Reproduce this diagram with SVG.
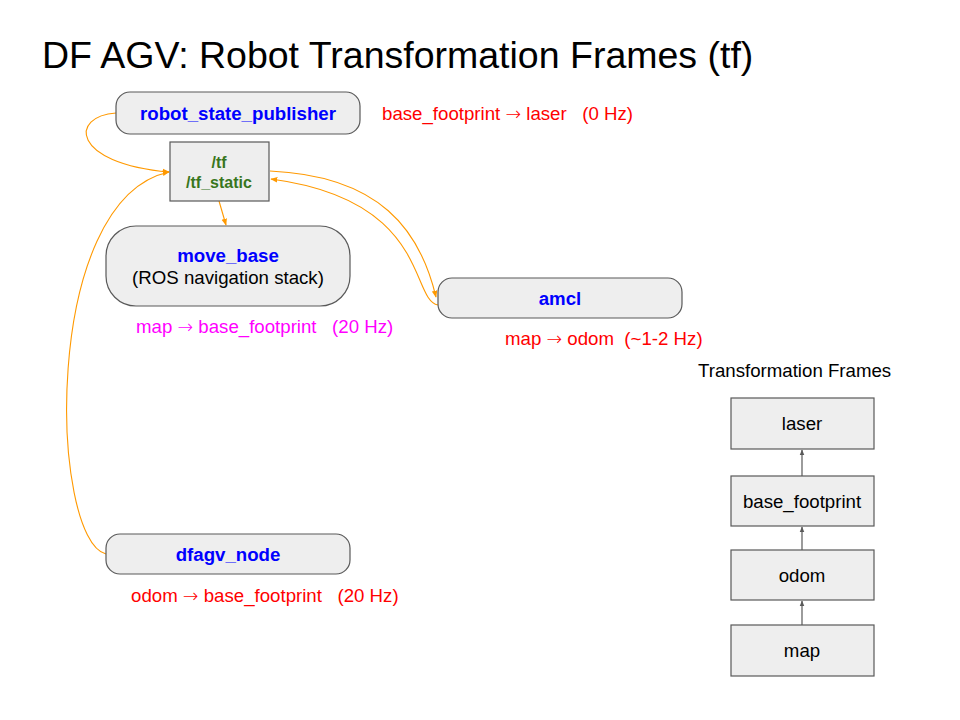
<svg xmlns="http://www.w3.org/2000/svg" width="960" height="720" viewBox="0 0 960 720">
<defs>
<style>
text{font-family:"Liberation Sans",Arial,sans-serif}
.node{fill:#eeeeee;stroke:#595959;stroke-width:1.2}
.nl{font-weight:bold;fill:#0000ff;font-size:18.67px;text-anchor:middle}
.tf{font-weight:bold;fill:#38761d;font-size:16px;text-anchor:middle}
.fr{fill:#000;font-size:18.67px;text-anchor:middle}
.red{fill:#ff0000;font-size:18.67px}
.mag{fill:#ff00ff;font-size:18.67px}
.ar{font-family:"DejaVu Sans",sans-serif;font-weight:200;font-size:18.67px}
.oc{fill:none;stroke:#ff9900;stroke-width:1.1;marker-end:url(#oa)}
.gc{fill:none;stroke:#595959;stroke-width:1.2;marker-end:url(#ga)}
</style>
<marker id="oa" viewBox="0 0 10 10" refX="9" refY="5" markerWidth="7" markerHeight="7" markerUnits="userSpaceOnUse" orient="auto"><path d="M0,1 L10,5 L0,9 z" fill="#ff9900"/></marker>
<marker id="ga" viewBox="0 0 10 10" refX="9" refY="5" markerWidth="6" markerHeight="6" markerUnits="userSpaceOnUse" orient="auto"><path d="M0,1 L10,5 L0,9 z" fill="#595959"/></marker>
</defs>
<rect width="960" height="720" fill="#fff"/>
<text x="42" y="68" style="font-size:37.5px" fill="#000">DF AGV: Robot Transformation Frames (tf)</text>

<g id="connectors">
<path class="oc" d="M116,113 C70,116 70,163 169,172"/>
<path class="oc" d="M106,554 C50,540 40,200 169,172"/>
<path class="oc" d="M219,201 L226,225"/>
<path class="oc" d="M270,171 C380,176 420,230 436,297"/>
<path class="oc" d="M438,305 C410,300 430,200 271,179"/>
<path class="gc" d="M802,625 L802,601"/>
<path class="gc" d="M802,550 L802,527"/>
<path class="gc" d="M802,476 L802,450"/>
</g>

<g id="robot_state_publisher">
<rect class="node" x="116" y="92" width="244" height="42" rx="14"/>
<text class="nl" x="238" y="120">robot_state_publisher</text>
</g>
<g id="tf">
<rect class="node" x="170" y="142" width="99" height="59"/>
<text class="tf" x="219" y="168">/tf</text>
<text class="tf" x="219" y="188">/tf_static</text>
</g>
<g id="move_base">
<rect class="node" x="106" y="226" width="244" height="80" rx="30"/>
<text class="nl" x="228" y="262">move_base</text>
<text class="fr" x="228" y="284">(ROS navigation stack)</text>
</g>
<g id="amcl">
<rect class="node" x="438" y="278" width="244" height="40" rx="14"/>
<text class="nl" x="560" y="305">amcl</text>
</g>
<g id="dfagv_node">
<rect class="node" x="106" y="534" width="244" height="40" rx="14"/>
<text class="nl" x="228" y="561">dfagv_node</text>
</g>

<text class="red" x="382" y="120" xml:space="preserve">base_footprint <tspan class="ar">→</tspan> laser   (0 Hz)</text>
<text class="mag" x="136" y="333" xml:space="preserve">map <tspan class="ar">→</tspan> base_footprint   (20 Hz)</text>
<text class="red" x="505" y="345" xml:space="preserve">map <tspan class="ar">→</tspan> odom  (~1-2 Hz)</text>
<text class="red" x="131" y="602" xml:space="preserve">odom <tspan class="ar">→</tspan> base_footprint   (20 Hz)</text>
<text x="698" y="377" style="font-size:18.67px" fill="#000">Transformation Frames</text>

<g id="laser">
<rect class="node" x="731" y="398" width="143" height="51"/>
<text class="fr" x="802" y="430">laser</text>
</g>
<g id="base_footprint">
<rect class="node" x="731" y="476" width="143" height="50"/>
<text class="fr" x="802" y="508">base_footprint</text>
</g>
<g id="odom">
<rect class="node" x="731" y="550" width="143" height="50"/>
<text class="fr" x="802" y="582">odom</text>
</g>
<g id="map">
<rect class="node" x="731" y="625" width="143" height="51"/>
<text class="fr" x="802" y="657">map</text>
</g>
</svg>
